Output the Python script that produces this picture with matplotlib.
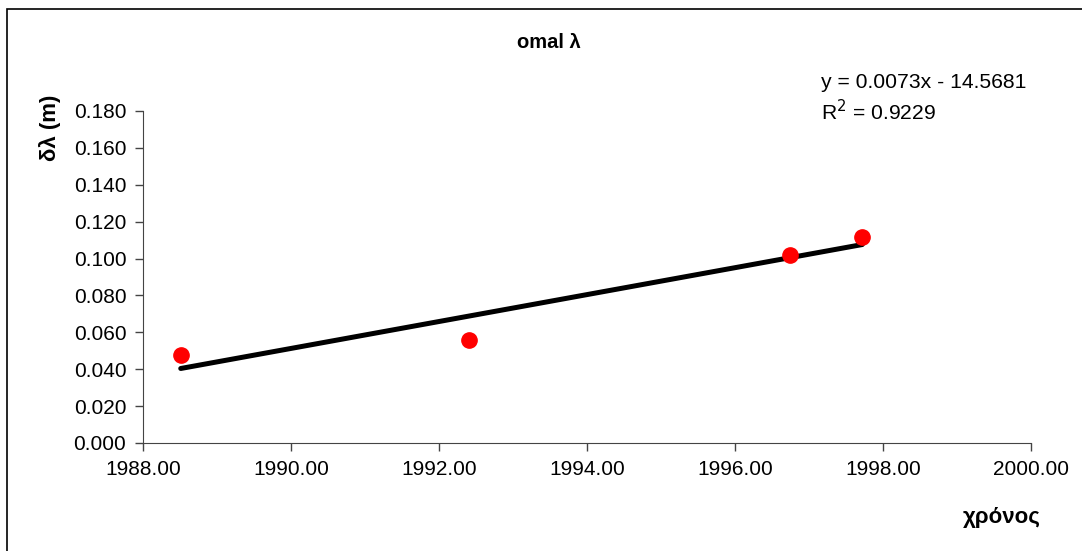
import matplotlib.pyplot as plt
import numpy as np
from matplotlib.patches import Rectangle

plt.rcParams['font.family'] = ['Liberation Sans', 'DejaVu Sans']

# donnees
years = [1988.51, 1992.41, 1996.74, 1997.72]
dl = [0.0477, 0.0559, 0.1020, 0.1117]
eq_text = "y = 0.0073x - 14.5681"
r2_text = "R$^2$ = 0.9229"
title = "omal λ"
xlab = "χρόνος"
ylab = "δλ (m)"

fig = plt.figure(figsize=(10.82, 5.51), dpi=100)
ax = fig.add_axes([143/1082, 108/551, 888/1082, 332/551])

# cadre autour du graphique (bords droit et bas hors image)
fig.patches.append(Rectangle((7/1082, -0.1), 1.2, 1.1 - 9/551, transform=fig.transFigure,
                             fill=False, edgecolor='black', linewidth=1.2))

# droite de tendance (moindres carres)
p = np.polyfit(years, dl, 1)
xx = np.array([min(years), max(years)])
ax.plot(xx, np.polyval(p, xx), color='black', linewidth=3.6, solid_capstyle='round', zorder=2)
ax.plot(years, dl, 'o', color='#ff0000', markersize=11, zorder=3)

ax.set_xlim(1988, 2000)
ax.set_ylim(0, 0.18)
ax.set_xticks(np.arange(1988, 2001, 2))
ax.set_xticklabels(["%.2f" % v for v in np.arange(1988, 2001, 2)])
ax.set_yticks(np.arange(0, 0.181, 0.02))
ax.set_yticklabels(["%.3f" % v for v in np.arange(0, 0.181, 0.02)])
ax.tick_params(direction='out', length=6, width=1, color='#444444', labelsize=15, pad=6)
ax.spines['top'].set_visible(False)
ax.spines['right'].set_visible(False)
ax.spines['left'].set_color('#444444')
ax.spines['bottom'].set_color('#444444')

fig.text(549/1082, 1 - 42/551, title, ha='center', va='center', fontsize=14.5, fontweight='bold')
fig.text(1002/1082, 1 - 518/551, xlab, ha='center', va='center', fontsize=16, fontweight='bold')
fig.text(50/1082, 1 - 128/551, ylab, ha='center', va='center', rotation=90, fontsize=16, fontweight='bold')
fig.text(821/1082, 1 - 82/551, eq_text, ha='left', va='center', fontsize=15.2)
fig.text(821/1082, 1 - 112/551, r2_text, ha='left', va='center', fontsize=15.2)

plt.savefig('out.png', dpi=100)
